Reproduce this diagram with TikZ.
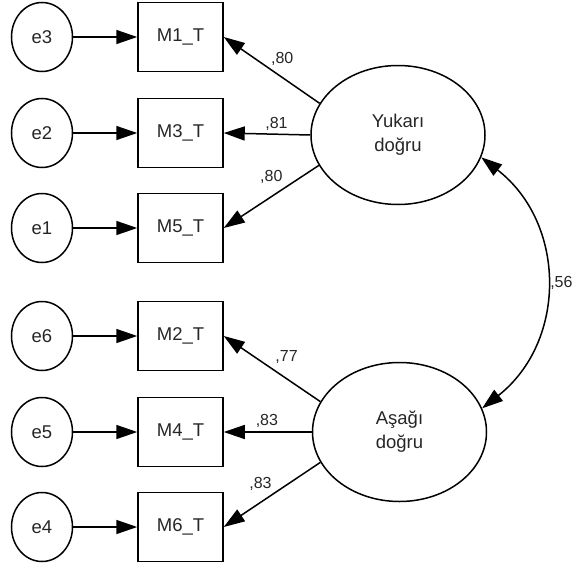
\documentclass[tikz,border=0pt]{standalone}
\usepackage{fontspec}
\setmainfont{Liberation Sans}
\usetikzlibrary{positioning}
\usetikzlibrary{arrows.meta}
\usetikzlibrary{shapes.geometric}
\tikzset{
    observed/.style = {
        draw, rectangle, minimum width=85pt, minimum height=69pt, text=black!85, font=\fontsize{18.5}{24}\selectfont
    },
    errnode/.style = {
        draw, ellipse, minimum width=61pt, minimum height=69pt, inner sep=0pt, text=black!85, font=\fontsize{18.5}{24}\selectfont
    },
    latent/.style = {
        draw, ellipse, minimum width=174pt, minimum height=139pt, align=center, text=black!85, font=\fontsize{18.5}{24}\selectfont
    },
    coef/.style = {
        anchor=south, inner sep=0pt, text=black!85, font=\fontsize{16}{18}\selectfont
    },
}

\begin{document}
\begin{tikzpicture}[x=1pt, y=-1pt, line width=1.5pt, >={Triangle[length=21pt, width=14pt]}]
        \useasboundingbox (0,0) rectangle (573,570);
        % Place the factors
        \node[latent] (yuk) at (398,135) {Yukarı\\doğru};
        \node[latent] (asa) at (399.5,432) {Aşağı\\doğru};
        % Place the items with their errors
        \foreach \m/\e/\y in {1/3/37, 3/2/133, 5/1/228, 2/6/336, 4/5/432, 6/4/527}{
            \node[observed] (m\m) at (180.5,\y) {M\m\_T};
            \node[errnode, left=64pt of m\m] (e\e) {e\e};
            \draw[->] (e\e) -- (m\m);
        }
        % Draw loadings
        \draw[->] (yuk.158) -- node[coef, pos=0.39, above=11pt] (l1) {,80} (m1.east);
        \draw[->] (yuk.west) -- node[coef, pos=0.39, above=3pt] (l3) {,81} (m3.east);
        \draw[->] (yuk.201) -- node[coef, pos=0.5, above=12pt] (l5) {,80} (m5.east);
        \draw[->] (asa.159) -- node[coef, pos=0.35, above=14pt] (l2) {,77} (m2.east);
        \draw[->] (asa.west) -- node[coef, pos=0.51, above=4pt] (l4) {,83} (m4.east);
        \draw[->] (asa.201) -- node[coef, pos=0.62, above=11pt] (l6) {,83} (m6.east);
        % Correlation between factors
        \draw[<->] (yuk.-15) to[bend left=52, looseness=1.1] node[coef, anchor=west, xshift=4pt] (r) {,56} (asa.16);
    \end{tikzpicture}
\end{document}
